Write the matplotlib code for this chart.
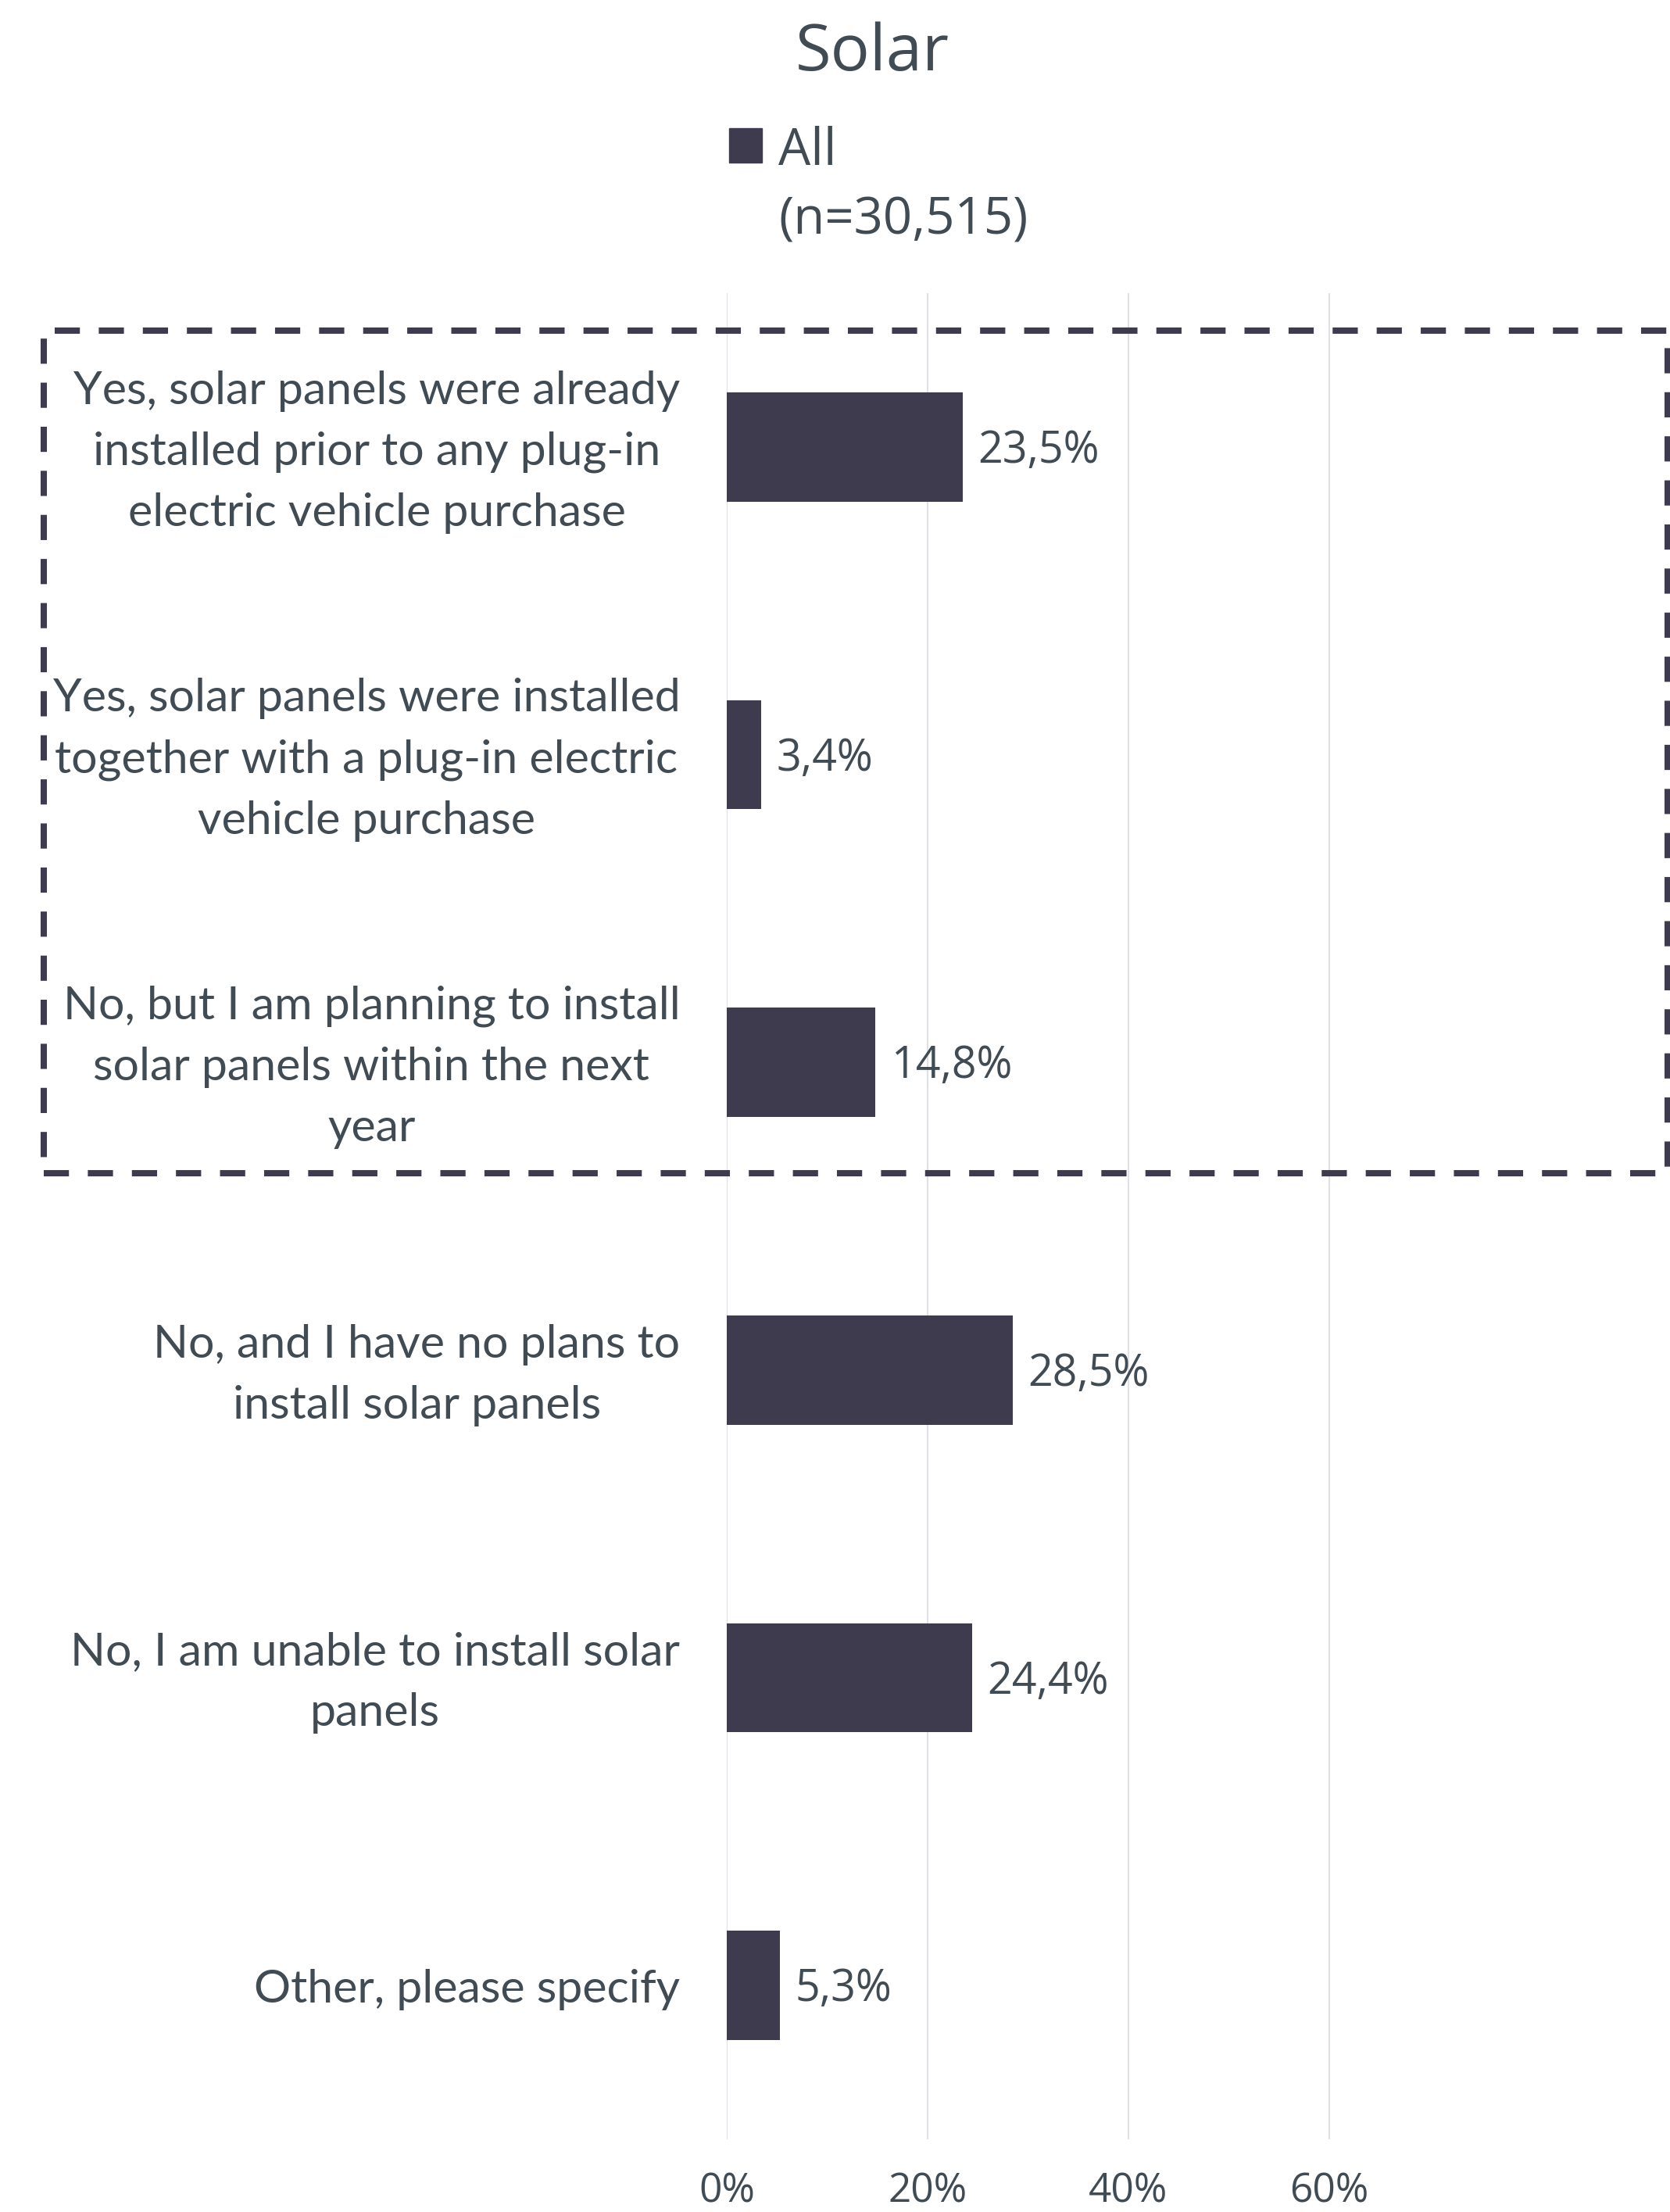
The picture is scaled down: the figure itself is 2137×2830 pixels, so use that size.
import matplotlib
matplotlib.use("Agg")
import matplotlib.pyplot as plt
from matplotlib.patches import Rectangle
from matplotlib.transforms import ScaledTranslation

# survey answers, top to bottom
categories = [
    "Yes, solar panels were already\ninstalled prior to any plug-in\nelectric vehicle purchase",
    "Yes, solar panels were installed\ntogether with a plug-in electric\nvehicle purchase",
    "No, but I am planning to install\nsolar panels within the next\nyear",
    "No, and I have no plans to\ninstall solar panels",
    "No, I am unable to install solar\npanels",
    "Other, please specify",
]
shares = [23.5, 3.4, 14.8, 28.5, 24.4, 5.3]
x_ticks = [0, 20, 40, 60]
series_name = "All\n(n=30,515)"
title = "Solar"

W, H, DPI = 2137, 2830, 100
bar_color = "#3e3b4f"
text_color = "#404b53"
grid_color = "#dfe1e6"

plt.rcParams["font.family"] = ["Open Sans", "DejaVu Sans"]
label_font = ["Lato", "DejaVu Sans"]

fig = plt.figure(figsize=(W / DPI, H / DPI), dpi=DPI)

# plot area in pixel terms: 0% at x=930, 20% per 257px
x0, y_top, y_bot = 930, 375, 2737
ax = fig.add_axes([x0 / W, (H - y_bot) / H, 4 * 257 / W, (y_bot - y_top) / H])

pos = list(range(len(categories)))
ax.barh(pos, shares, height=0.355, color=bar_color, zorder=2)
ax.set_ylim(len(categories) - 0.5, -0.5)
ax.set_xlim(0, 80)

ax.set_xticks(x_ticks)
ax.set_xticklabels([f"{t}%" for t in x_ticks], fontsize=37, color=text_color)
ax.set_yticks(pos)
ax.set_yticklabels(categories, fontsize=42.5, color=text_color, family=label_font,
                   multialignment="center", linespacing=1.58)
ax.tick_params(axis="x", length=0, pad=30)
ax.tick_params(axis="y", length=0, pad=43)
# wrapped labels sit a little low; nudge them up
for lab in ax.get_yticklabels():
    if "\n" in lab.get_text():
        lab.set_transform(lab.get_transform() + ScaledTranslation(0, 8 / 72, fig.dpi_scale_trans))
ax.grid(axis="x", color=grid_color, lw=1.5, zorder=0)
ax.set_axisbelow(True)
for s in ax.spines.values():
    s.set_visible(False)

# value labels with decimal comma
for i, v in enumerate(shares):
    ax.annotate(f"{v:.1f}".replace(".", ",") + "%", (v, i), xytext=(14, -4),
                textcoords="offset points", va="center", ha="left",
                fontsize=40, color=text_color)

# title and legend
fig.text(1116 / W, 1 - 90 / H, title, ha="center", va="baseline",
         fontsize=60, color=text_color)
fig.patches.append(Rectangle((933 / W, 1 - 208 / H), 42 / W, 44 / H,
                             transform=fig.transFigure, color=bar_color))
name_top, name_bottom = series_name.split("\n")
fig.text(996 / W, 1 - 211 / H, name_top, ha="left", va="baseline",
         fontsize=47, color=text_color)
fig.text(996 / W, 1 - 300 / H, name_bottom, ha="left", va="baseline",
         fontsize=47, color=text_color)

# dashed frame around the "solar" answers
fig.patches.append(Rectangle((56 / W, 1 - 1501 / H), (2134 - 56) / W, (1501 - 423) / H,
                             transform=fig.transFigure, fill=False,
                             edgecolor=bar_color, lw=5.8, linestyle=(0, (4, 3))))

fig.savefig("out.png", dpi=DPI)
